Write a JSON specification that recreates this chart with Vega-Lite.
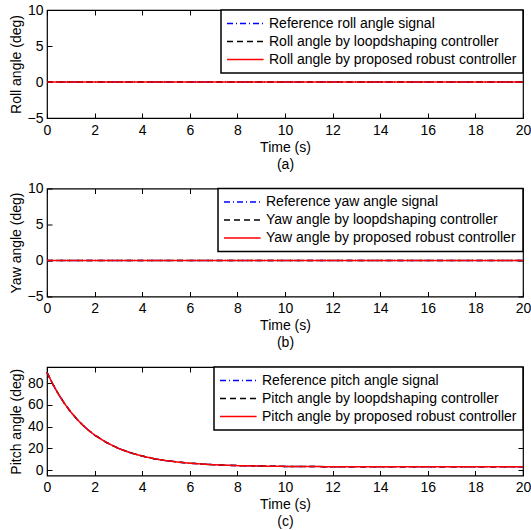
{
  "$schema": "https://vega.github.io/schema/vega-lite/v6.json",
  "autosize": "none",
  "padding": {"left": 47, "top": 10, "right": 484, "bottom": 520},
  "bounds": "flush",
  "spacing": 70.5,
  "resolve": {"scale": {"color": "independent", "strokeDash": "independent", "y": "independent"}},
  "vconcat": [
    {
      "width": 476,
      "height": 108,
      "data": {"values": [
        {"t": 0, "angle": 0, "series": "Reference roll angle signal"},
        {"t": 20, "angle": 0, "series": "Reference roll angle signal"},
        {"t": 0, "angle": 0, "series": "Roll angle by loopdshaping controller"},
        {"t": 20, "angle": 0, "series": "Roll angle by loopdshaping controller"},
        {"t": 0, "angle": 0, "series": "Roll angle by proposed robust controller"},
        {"t": 20, "angle": 0, "series": "Roll angle by proposed robust controller"}
      ]},
      "layer": [
        {
          "mark": {"type": "line", "opacity": 0},
          "encoding": {
            "x": {"field": "t", "type": "quantitative", "scale": {"domain": [0, 20], "nice": false},
                  "axis": {"orient": "top", "labels": false, "title": null, "grid": false, "values": [0, 2, 4, 6, 8, 10, 12, 14, 16, 18, 20]}},
            "y": {"field": "angle", "type": "quantitative", "scale": {"domain": [-5, 10], "nice": false},
                  "axis": {"orient": "right", "labels": false, "title": null, "grid": false, "values": [-5, 0, 5, 10]}},
            "detail": {"field": "series"}
          }
        },
        {
          "mark": {"type": "line"},
          "encoding": {
            "x": {"field": "t", "type": "quantitative", "scale": {"domain": [0, 20], "nice": false},
                  "axis": {"title": ["Time (s)", "(a)"], "values": [0, 2, 4, 6, 8, 10, 12, 14, 16, 18, 20]}},
            "y": {"field": "angle", "type": "quantitative", "scale": {"domain": [-5, 10], "nice": false},
                  "axis": {"title": "Roll angle (deg)", "values": [-5, 0, 5, 10]}},
            "color": {"field": "series", "type": "nominal",
                      "scale": {"domain": ["Reference roll angle signal", "Roll angle by loopdshaping controller", "Roll angle by proposed robust controller"], "range": ["#0000ff", "#000000", "#ff0000"]},
                      "legend": {"title": null}},
            "strokeDash": {"field": "series", "type": "nominal",
                           "scale": {"domain": ["Reference roll angle signal", "Roll angle by loopdshaping controller", "Roll angle by proposed robust controller"], "range": [[6, 3, 1, 3], [6, 4], [1, 0]]},
                           "legend": {"title": null}},
            "strokeWidth": {"field": "series", "type": "nominal",
                            "scale": {"domain": ["Reference roll angle signal", "Roll angle by loopdshaping controller", "Roll angle by proposed robust controller"], "range": [1.5, 1.5, 2]},
                            "legend": null}
          }
        }
      ],
      "resolve": {"axis": {"x": "independent", "y": "independent"}}
    },
    {
      "width": 476,
      "height": 108,
      "data": {"values": [
        {"t": 0, "angle": 0, "series": "Reference yaw angle signal"},
        {"t": 20, "angle": 0, "series": "Reference yaw angle signal"},
        {"t": 0, "angle": 0, "series": "Yaw angle by loopdshaping controller"},
        {"t": 20, "angle": 0, "series": "Yaw angle by loopdshaping controller"},
        {"t": 0, "angle": 0, "series": "Yaw angle by proposed robust controller"},
        {"t": 20, "angle": 0, "series": "Yaw angle by proposed robust controller"}
      ]},
      "layer": [
        {
          "mark": {"type": "line", "opacity": 0},
          "encoding": {
            "x": {"field": "t", "type": "quantitative", "scale": {"domain": [0, 20], "nice": false},
                  "axis": {"orient": "top", "labels": false, "title": null, "grid": false, "values": [0, 2, 4, 6, 8, 10, 12, 14, 16, 18, 20]}},
            "y": {"field": "angle", "type": "quantitative", "scale": {"domain": [-5, 10], "nice": false},
                  "axis": {"orient": "right", "labels": false, "title": null, "grid": false, "values": [-5, 0, 5, 10]}},
            "detail": {"field": "series"}
          }
        },
        {
          "mark": {"type": "line"},
          "encoding": {
            "x": {"field": "t", "type": "quantitative", "scale": {"domain": [0, 20], "nice": false},
                  "axis": {"title": ["Time (s)", "(b)"], "values": [0, 2, 4, 6, 8, 10, 12, 14, 16, 18, 20]}},
            "y": {"field": "angle", "type": "quantitative", "scale": {"domain": [-5, 10], "nice": false},
                  "axis": {"title": "Yaw angle (deg)", "values": [-5, 0, 5, 10]}},
            "color": {"field": "series", "type": "nominal",
                      "scale": {"domain": ["Reference yaw angle signal", "Yaw angle by loopdshaping controller", "Yaw angle by proposed robust controller"], "range": ["#0000ff", "#000000", "#ff0000"]},
                      "legend": {"title": null}},
            "strokeDash": {"field": "series", "type": "nominal",
                           "scale": {"domain": ["Reference yaw angle signal", "Yaw angle by loopdshaping controller", "Yaw angle by proposed robust controller"], "range": [[6, 3, 1, 3], [6, 4], [1, 0]]},
                           "legend": {"title": null}},
            "strokeWidth": {"field": "series", "type": "nominal",
                            "scale": {"domain": ["Reference yaw angle signal", "Yaw angle by loopdshaping controller", "Yaw angle by proposed robust controller"], "range": [1.5, 1.5, 2]},
                            "legend": null}
          }
        }
      ],
      "resolve": {"axis": {"x": "independent", "y": "independent"}}
    },
    {
      "width": 476,
      "height": 108.5,
      "data": {"values": [
        {"t": 0, "angle": 90, "series": "Reference pitch angle signal"},
        {"t": 0.25, "angle": 78.9, "series": "Reference pitch angle signal"},
        {"t": 0.5, "angle": 69.3, "series": "Reference pitch angle signal"},
        {"t": 0.75, "angle": 60.9, "series": "Reference pitch angle signal"},
        {"t": 1, "angle": 53.5, "series": "Reference pitch angle signal"},
        {"t": 1.25, "angle": 47.1, "series": "Reference pitch angle signal"},
        {"t": 1.5, "angle": 41.5, "series": "Reference pitch angle signal"},
        {"t": 1.75, "angle": 36.6, "series": "Reference pitch angle signal"},
        {"t": 2, "angle": 32.3, "series": "Reference pitch angle signal"},
        {"t": 2.5, "angle": 25.4, "series": "Reference pitch angle signal"},
        {"t": 3, "angle": 20.0, "series": "Reference pitch angle signal"},
        {"t": 3.5, "angle": 16.0, "series": "Reference pitch angle signal"},
        {"t": 4, "angle": 12.9, "series": "Reference pitch angle signal"},
        {"t": 4.5, "angle": 10.5, "series": "Reference pitch angle signal"},
        {"t": 5, "angle": 8.7, "series": "Reference pitch angle signal"},
        {"t": 5.5, "angle": 7.4, "series": "Reference pitch angle signal"},
        {"t": 6, "angle": 6.3, "series": "Reference pitch angle signal"},
        {"t": 7, "angle": 4.9, "series": "Reference pitch angle signal"},
        {"t": 8, "angle": 4.1, "series": "Reference pitch angle signal"},
        {"t": 9, "angle": 3.7, "series": "Reference pitch angle signal"},
        {"t": 10, "angle": 3.4, "series": "Reference pitch angle signal"},
        {"t": 12, "angle": 3.1, "series": "Reference pitch angle signal"},
        {"t": 14, "angle": 3.0, "series": "Reference pitch angle signal"},
        {"t": 16, "angle": 3.0, "series": "Reference pitch angle signal"},
        {"t": 20, "angle": 3.0, "series": "Reference pitch angle signal"},
        {"t": 0, "angle": 90, "series": "Pitch angle by loopdshaping controller"},
        {"t": 0.25, "angle": 78.9, "series": "Pitch angle by loopdshaping controller"},
        {"t": 0.5, "angle": 69.3, "series": "Pitch angle by loopdshaping controller"},
        {"t": 0.75, "angle": 60.9, "series": "Pitch angle by loopdshaping controller"},
        {"t": 1, "angle": 53.5, "series": "Pitch angle by loopdshaping controller"},
        {"t": 1.25, "angle": 47.1, "series": "Pitch angle by loopdshaping controller"},
        {"t": 1.5, "angle": 41.5, "series": "Pitch angle by loopdshaping controller"},
        {"t": 1.75, "angle": 36.6, "series": "Pitch angle by loopdshaping controller"},
        {"t": 2, "angle": 32.3, "series": "Pitch angle by loopdshaping controller"},
        {"t": 2.5, "angle": 25.4, "series": "Pitch angle by loopdshaping controller"},
        {"t": 3, "angle": 20.0, "series": "Pitch angle by loopdshaping controller"},
        {"t": 3.5, "angle": 16.0, "series": "Pitch angle by loopdshaping controller"},
        {"t": 4, "angle": 12.9, "series": "Pitch angle by loopdshaping controller"},
        {"t": 4.5, "angle": 10.5, "series": "Pitch angle by loopdshaping controller"},
        {"t": 5, "angle": 8.7, "series": "Pitch angle by loopdshaping controller"},
        {"t": 5.5, "angle": 7.4, "series": "Pitch angle by loopdshaping controller"},
        {"t": 6, "angle": 6.3, "series": "Pitch angle by loopdshaping controller"},
        {"t": 7, "angle": 4.9, "series": "Pitch angle by loopdshaping controller"},
        {"t": 8, "angle": 4.1, "series": "Pitch angle by loopdshaping controller"},
        {"t": 9, "angle": 3.7, "series": "Pitch angle by loopdshaping controller"},
        {"t": 10, "angle": 3.4, "series": "Pitch angle by loopdshaping controller"},
        {"t": 12, "angle": 3.1, "series": "Pitch angle by loopdshaping controller"},
        {"t": 14, "angle": 3.0, "series": "Pitch angle by loopdshaping controller"},
        {"t": 16, "angle": 3.0, "series": "Pitch angle by loopdshaping controller"},
        {"t": 20, "angle": 3.0, "series": "Pitch angle by loopdshaping controller"},
        {"t": 0, "angle": 90, "series": "Pitch angle by proposed robust controller"},
        {"t": 0.25, "angle": 78.9, "series": "Pitch angle by proposed robust controller"},
        {"t": 0.5, "angle": 69.3, "series": "Pitch angle by proposed robust controller"},
        {"t": 0.75, "angle": 60.9, "series": "Pitch angle by proposed robust controller"},
        {"t": 1, "angle": 53.5, "series": "Pitch angle by proposed robust controller"},
        {"t": 1.25, "angle": 47.1, "series": "Pitch angle by proposed robust controller"},
        {"t": 1.5, "angle": 41.5, "series": "Pitch angle by proposed robust controller"},
        {"t": 1.75, "angle": 36.6, "series": "Pitch angle by proposed robust controller"},
        {"t": 2, "angle": 32.3, "series": "Pitch angle by proposed robust controller"},
        {"t": 2.5, "angle": 25.4, "series": "Pitch angle by proposed robust controller"},
        {"t": 3, "angle": 20.0, "series": "Pitch angle by proposed robust controller"},
        {"t": 3.5, "angle": 16.0, "series": "Pitch angle by proposed robust controller"},
        {"t": 4, "angle": 12.9, "series": "Pitch angle by proposed robust controller"},
        {"t": 4.5, "angle": 10.5, "series": "Pitch angle by proposed robust controller"},
        {"t": 5, "angle": 8.7, "series": "Pitch angle by proposed robust controller"},
        {"t": 5.5, "angle": 7.4, "series": "Pitch angle by proposed robust controller"},
        {"t": 6, "angle": 6.3, "series": "Pitch angle by proposed robust controller"},
        {"t": 7, "angle": 4.9, "series": "Pitch angle by proposed robust controller"},
        {"t": 8, "angle": 4.1, "series": "Pitch angle by proposed robust controller"},
        {"t": 9, "angle": 3.7, "series": "Pitch angle by proposed robust controller"},
        {"t": 10, "angle": 3.4, "series": "Pitch angle by proposed robust controller"},
        {"t": 12, "angle": 3.1, "series": "Pitch angle by proposed robust controller"},
        {"t": 14, "angle": 3.0, "series": "Pitch angle by proposed robust controller"},
        {"t": 16, "angle": 3.0, "series": "Pitch angle by proposed robust controller"},
        {"t": 20, "angle": 3.0, "series": "Pitch angle by proposed robust controller"}
      ]},
      "layer": [
        {
          "mark": {"type": "line", "opacity": 0},
          "encoding": {
            "x": {"field": "t", "type": "quantitative", "scale": {"domain": [0, 20], "nice": false},
                  "axis": {"orient": "top", "labels": false, "title": null, "grid": false, "values": [0, 2, 4, 6, 8, 10, 12, 14, 16, 18, 20]}},
            "y": {"field": "angle", "type": "quantitative", "scale": {"domain": [-5, 95], "nice": false},
                  "axis": {"orient": "right", "labels": false, "title": null, "grid": false, "values": [0, 20, 40, 60, 80]}},
            "detail": {"field": "series"}
          }
        },
        {
          "mark": {"type": "line"},
          "encoding": {
            "x": {"field": "t", "type": "quantitative", "scale": {"domain": [0, 20], "nice": false},
                  "axis": {"title": ["Time (s)", "(c)"], "values": [0, 2, 4, 6, 8, 10, 12, 14, 16, 18, 20]}},
            "y": {"field": "angle", "type": "quantitative", "scale": {"domain": [-5, 95], "nice": false},
                  "axis": {"title": "Pitch angle (deg)", "values": [0, 20, 40, 60, 80]}},
            "color": {"field": "series", "type": "nominal",
                      "scale": {"domain": ["Reference pitch angle signal", "Pitch angle by loopdshaping controller", "Pitch angle by proposed robust controller"], "range": ["#0000ff", "#000000", "#ff0000"]},
                      "legend": {"title": null}},
            "strokeDash": {"field": "series", "type": "nominal",
                           "scale": {"domain": ["Reference pitch angle signal", "Pitch angle by loopdshaping controller", "Pitch angle by proposed robust controller"], "range": [[6, 3, 1, 3], [6, 4], [1, 0]]},
                           "legend": {"title": null}},
            "strokeWidth": {"field": "series", "type": "nominal",
                            "scale": {"domain": ["Reference pitch angle signal", "Pitch angle by loopdshaping controller", "Pitch angle by proposed robust controller"], "range": [1.5, 1.5, 2]},
                            "legend": null}
          }
        }
      ],
      "resolve": {"axis": {"x": "independent", "y": "independent"}}
    }
  ],
  "config": {
    "font": "Liberation Sans",
    "background": "white",
    "view": {"stroke": "black", "strokeWidth": 1.2},
    "axis": {
      "domain": false,
      "labelFont": "Liberation Sans",
      "labelFontSize": 14,
      "labelColor": "black",
      "titleFont": "Liberation Sans",
      "titleFontSize": 14,
      "titleFontWeight": "normal",
      "titleColor": "black",
      "tickColor": "black",
      "tickSize": -5,
      "tickWidth": 1,
      "gridColor": "#555555",
      "gridDash": [1, 3],
      "gridOpacity": 0.9,
      "gridWidth": 1
    },
    "axisX": {"labelPadding": 10, "titlePadding": 3, "titleLineHeight": 17, "labelFlush": false},
    "axisY": {"labelPadding": 9, "titlePadding": 4, "labelFlush": false},
    "legend": {
      "orient": "top-right",
      "offset": 0,
      "fillColor": "white",
      "strokeColor": "black",
      "strokeWidth": 1.5,
      "padding": 6.5,
      "rowPadding": 4,
      "symbolType": "M-1.25,0H4.85",
      "symbolSize": 144,
      "symbolStrokeWidth": 1.5,
      "labelFont": "Liberation Sans",
      "labelFontSize": 14,
      "labelColor": "black",
      "labelOffset": 27.5,
      "labelLimit": 400
    }
  }
}
